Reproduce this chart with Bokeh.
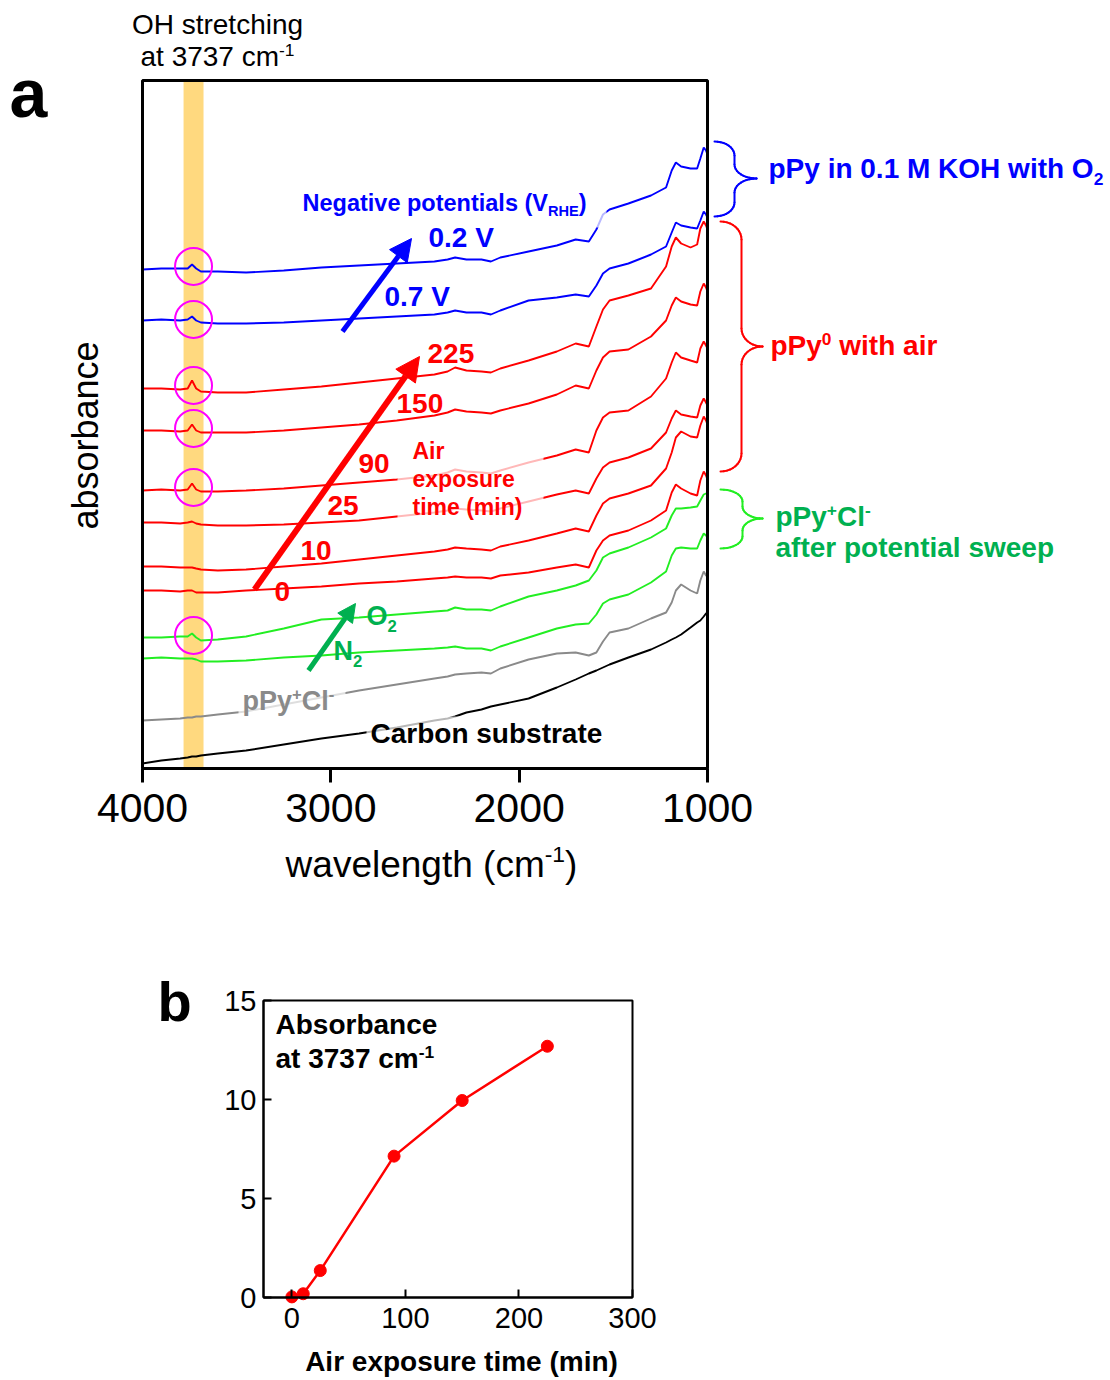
import math
from bokeh.plotting import figure
from bokeh.models import (Label, Arrow, NormalHead, BoxAnnotation, ColumnDataSource,
                          Range1d, FixedTicker, LinearAxis)
from bokeh.embed import file_html
from bokeh.resources import INLINE

# ---------------- data ----------------
wavenumber = [4000, 3900, 3800, 3760, 3737, 3715, 3690, 3600, 3450, 3250, 3050, 2850, 2650,
              2450, 2380, 2340, 2280, 2200, 2150, 2100, 1950, 1800, 1700, 1630, 1590, 1555,
              1520, 1420, 1300, 1220, 1190, 1168, 1140, 1090, 1055, 1038, 1020, 1008, 1000]

koh_02V = [499, 500, 500, 500, 504, 500, 497, 497, 496, 498, 501, 503, 505, 507, 509, 511, 509, 509, 507, 511,
           517, 523, 529, 527, 539, 554, 559, 565, 573, 581, 598, 606, 602, 600, 600, 610, 621, 618, 614]
koh_07V = [448, 449, 448, 449, 452, 448, 446, 445, 445, 446, 448, 450, 452, 454, 456, 458, 456, 456, 454, 458,
           468, 471, 474, 472, 483, 495, 500, 505, 514, 522, 536, 546, 543, 541, 540, 548, 557, 554, 551]
air_225 = [380, 380, 379, 380, 388, 380, 377, 376, 376, 379, 382, 386, 390, 394, 397, 401, 398, 397, 396, 400,
           408, 417, 425, 422, 442, 459, 468, 473, 480, 502, 522, 531, 525, 521, 524, 540, 547, 543, 539]
air_150 = [338, 338, 337, 338, 344, 338, 336, 336, 336, 338, 341, 344, 348, 353, 356, 359, 357, 356, 355, 358,
           365, 374, 383, 380, 398, 411, 417, 419, 432, 448, 463, 471, 467, 464, 463, 477, 485, 481, 477]
air_90 = [278, 279, 278, 279, 285, 279, 277, 277, 278, 280, 283, 286, 289, 293, 296, 299, 297, 296, 295, 298,
          306, 313, 319, 316, 338, 351, 356, 358, 372, 390, 406, 416, 411, 408, 406, 420, 427, 423, 420]
air_25 = [246, 246, 245, 246, 247, 245, 244, 243, 243, 244, 246, 248, 252, 256, 258, 260, 259, 258, 257, 260,
          267, 274, 278, 275, 290, 301, 306, 311, 320, 336, 350, 358, 354, 352, 351, 363, 370, 366, 363]
air_10 = [202, 202, 201, 201, 201, 200, 199, 198, 199, 202, 205, 209, 213, 217, 219, 221, 220, 219, 218, 222,
          228, 235, 240, 237, 253, 265, 270, 275, 283, 300, 316, 331, 337, 332, 331, 343, 352, 348, 344]
air_0 = [178, 178, 177, 178, 178, 176, 176, 176, 178, 180, 182, 185, 187, 190, 191, 192, 191, 191, 190, 193,
         196, 201, 204, 201, 218, 228, 233, 238, 248, 258, 276, 284, 280, 275, 273, 288, 297, 293, 289]
sweep_O2 = [131, 131, 132, 132, 135, 131, 128, 129, 132, 140, 149, 151, 154, 157, 158, 161, 159, 159, 158, 162,
            172, 178, 183, 188, 198, 211, 215, 221, 231, 240, 253, 260, 260, 261, 262, 268, 274, 275, 275]
sweep_N2 = [110, 111, 110, 110, 110, 109, 107, 107, 108, 111, 113, 116, 118, 120, 121, 122, 120, 120, 118, 122,
            131, 140, 144, 145, 154, 165, 169, 174, 186, 197, 213, 220, 221, 220, 220, 228, 235, 233, 231]
ppy_cl = [48, 49, 50, 51, 51, 52, 52, 54, 57, 64, 71, 78, 84, 90, 92, 94, 95, 96, 95, 100,
          109, 115, 116, 113, 116, 127, 136, 140, 150, 156, 166, 178, 184, 178, 175, 188, 197, 193, 192]
carbon = [5, 8, 10, 11, 12, 12, 13, 15, 18, 24, 30, 35, 41, 48, 50, 52, 56, 59, 62, 64,
          70, 81, 89, 95, 98, 101, 104, 111, 119, 126, 129, 131, 134, 141, 146, 148, 152, 155, 156]

oh_band_left, oh_band_right = 3782, 3676
oh_circle_wn = [3729, 3729, 3729, 3729, 3729, 3729]
oh_circle_y = [502, 449, 383, 340, 281, 133]

air_time_min = [0, 10, 25, 90, 150, 225]
abs_3737 = [0.03, 0.19, 1.36, 7.14, 9.95, 12.69]

wn_ticks = [4000, 3000, 2000, 1000]
b_xticks = [0, 100, 200, 300]
b_yticks = [0, 5, 10, 15]

FONT = "Liberation Sans"
BLUE, RED, LGREEN, DGREEN, GRAY = "#0000FF", "#FF0000", "#22EE22", "#00B050", "#8A8A8A"
W, H = 1110, 1380

# ---------------- layout anchors (pixels on the page) ----------------
A_L, A_R, A_T, A_B = 142, 707, 80, 768        # panel a frame
B_L, B_R, B_T, B_B = 263, 632, 1000, 1297     # panel b frame

sa = 3000.0 / (A_R - A_L)
sb = 325.0 / (B_R - B_L)
sby = 15.0 / (B_B - B_T)
BASE_K = 0.38   # renderer places the alphabetic baseline this many em lower

# ---------------- helpers ----------------
W_REG = {' ': 278, '(': 333, ')': 333, '-': 333, '+': 584, '.': 278,
         'A': 667, 'C': 722, 'E': 667, 'H': 722, 'K': 667, 'M': 833, 'N': 722, 'O': 778, 'P': 667,
         'R': 722, 'V': 667, 'a': 556, 'b': 556, 'c': 500, 'e': 556, 'f': 278, 'g': 556, 'h': 556,
         'i': 222, 'l': 222, 'm': 833, 'n': 556, 'o': 556, 'p': 556, 'r': 333, 's': 500, 't': 278,
         'u': 556, 'v': 500, 'w': 722, 'x': 500, 'y': 500}
W_BOLD = {' ': 278, '(': 333, ')': 333, '-': 333, '+': 584, '.': 278,
          'A': 722, 'C': 722, 'E': 667, 'H': 722, 'K': 722, 'M': 833, 'N': 722, 'O': 778, 'P': 667,
          'R': 722, 'V': 667, 'a': 556, 'b': 611, 'c': 556, 'e': 556, 'f': 333, 'g': 611, 'h': 611,
          'i': 278, 'l': 278, 'm': 889, 'n': 611, 'o': 611, 'p': 611, 'r': 389, 's': 556, 't': 333,
          'u': 611, 'v': 556, 'w': 778, 'x': 556, 'y': 556}


def tw(txt, bold):
    tab = W_BOLD if bold else W_REG
    return sum(tab.get(ch, 556) for ch in txt) / 1000.0


def ax(px):
    return 4000 - (px - A_L) * sa


def ay(py):
    return A_B - py


p = figure(width=W, height=H, output_backend="svg", toolbar_location=None,
           x_range=Range1d(ax(0), ax(W)), y_range=Range1d(ay(H), ay(0)),
           min_border_left=0, min_border_right=0, min_border_top=0, min_border_bottom=0)
p.extra_x_ranges = {"bx": Range1d(-25 - B_L * sb, -25 + (W - B_L) * sb)}
p.extra_y_ranges = {"by": Range1d(-(H - B_B) * sby, B_B * sby)}
p.title.visible = False
p.outline_line_color = None
p.xgrid.visible = False
p.ygrid.visible = False
p.background_fill_color = "white"
p.border_fill_color = "white"
p.yaxis.visible = False


def lab(px, py, text, size, color, bold, align="left", angle=0.0):
    """px, py: wanted position of the alphabetic baseline on the page."""
    if angle == 0.0:
        X, Y = ax(px), ay(py - BASE_K * size)
    else:
        X, Y = ax(px - BASE_K * size), ay(py)
    p.add_layout(Label(x=X, y=Y, text=text, text_font=FONT, text_font_size=f"{size:.1f}px",
                       text_font_style="bold" if bold else "normal", text_color=color,
                       text_align=align, text_baseline="alphabetic", angle=angle))


def rich(px, py, parts, size, color, bold, anchor="left"):
    def fs_of(kind):
        return size if kind == "n" else size * 0.62
    total = sum(tw(t, bold) * fs_of(k) for t, k in parts)
    x = px if anchor == "left" else px - total / 2.0
    for txt, kind in parts:
        fs = fs_of(kind)
        dy = {"n": 0.0, "sup": -0.40 * size, "sub": 0.20 * size}[kind]
        stripped = txt.lstrip(" ")
        lead = tw(txt[:len(txt) - len(stripped)], bold) * fs
        lab(x + lead, py + dy, stripped, fs, color, bold)
        x += tw(txt, bold) * fs


def brace(color, x_left, x_mid, x_tip, y_top, y_tip, y_bot, r, width=2, n=10):
    pts = []
    rx = x_mid - x_left
    rx2 = x_tip - x_mid
    for k in range(n + 1):
        t = math.radians(-90 + 90 * k / n)
        pts.append((x_left + rx * math.cos(t), y_top + r + r * math.sin(t)))
    for k in range(n + 1):
        t = math.radians(180 - 90 * k / n)
        pts.append((x_tip + rx2 * math.cos(t), y_tip - r + r * math.sin(t)))
    for k in range(n + 1):
        t = math.radians(-90 - 90 * k / n)
        pts.append((x_tip + rx2 * math.cos(t), y_tip + r + r * math.sin(t)))
    for k in range(n + 1):
        t = math.radians(90 * k / n)
        pts.append((x_left + rx * math.cos(t), y_bot - r + r * math.sin(t)))
    src = ColumnDataSource(dict(
        x0=[ax(q[0]) for q in pts[:-1]], y0=[ay(q[1]) for q in pts[:-1]],
        x1=[ax(q[0]) for q in pts[1:]], y1=[ay(q[1]) for q in pts[1:]]))
    p.add_layout(Arrow(x_start="x0", y_start="y0", x_end="x1", y_end="y1", source=src,
                       start=None, end=None, line_color=color, line_width=width, line_cap="round"))


def arrow(p0, p1, color, width, head):
    p.add_layout(Arrow(x_start=ax(p0[0]), y_start=ay(p0[1]), x_end=ax(p1[0]), y_end=ay(p1[1]),
                       line_color=color, line_width=width,
                       end=NormalHead(size=head, fill_color=color, line_color=color, line_width=1)))


# ---------------- panel a ----------------
xa = p.xaxis[0]
xa.fixed_location = 0
xa.bounds = (1000, 4000)
xa.ticker = FixedTicker(ticks=wn_ticks)
xa.minor_tick_line_color = None
xa.major_tick_in = 0
xa.major_tick_out = 14
xa.major_tick_line_width = 3
xa.axis_line_width = 3
xa.major_label_text_font = FONT
xa.major_label_text_font_size = "41px"
xa.major_label_text_color = "black"
xa.major_label_standoff = 11

p.add_layout(BoxAnnotation(left=oh_band_left, right=oh_band_right, bottom=0, top=688,
                           fill_color="#FFD97F", fill_alpha=1.0, line_color=None, level="underlay"))

series = [(koh_02V, BLUE), (koh_07V, BLUE), (air_225, RED), (air_150, RED), (air_90, RED),
          (air_25, RED), (air_10, RED), (air_0, RED), (sweep_O2, LGREEN), (sweep_N2, LGREEN),
          (ppy_cl, GRAY), (carbon, "black")]
for vals, col in series:
    p.line(wavenumber, vals, line_color=col, line_width=1.9)

p.scatter(oh_circle_wn, oh_circle_y, marker="circle", size=37, fill_color=None,
          line_color="#FF00FF", line_width=2)

# faded boxes behind in-plot labels
for l, r_, t, b in [(287, 606, 182, 227), (397, 543, 428, 529), (238, 345, 684, 716), (366, 608, 716, 750)]:
    p.add_layout(BoxAnnotation(left=ax(l), right=ax(r_), top=ay(t), bottom=ay(b),
                               fill_color="white", fill_alpha=0.72, line_color=None))

# frame of panel a
p.add_layout(BoxAnnotation(left=4000, right=1000, bottom=0, top=688, fill_alpha=0.0,
                           line_color="black", line_alpha=1.0, line_width=3))

arrow((342, 331), (411, 238), BLUE, 5, 22)
arrow((254, 589), (419, 356), RED, 6, 24)
arrow((308, 670), (355, 603), DGREEN, 5, 18)

brace(BLUE, 714, 734, 756, 141, 178, 216, 14)
brace(RED, 720, 741, 762, 221, 346, 471, 18)
brace(LGREEN, 720, 742, 762, 489, 518, 548, 12)

lab(9, 118, "a", 68, "black", True)
lab(217, 35, "OH stretching", 28, "black", False, align="center")
rich(217, 67, [("at 3737 cm", "n"), ("-1", "sup")], 28, "black", False, anchor="center")
lab(99, 435, "absorbance", 36, "black", False, align="center", angle=math.pi / 2)
rich(431, 878, [("wavelength (cm", "n"), ("-1", "sup"), (")", "n")], 37, "black", False, anchor="center")

rich(302, 211, [("Negative potentials (V", "n"), ("RHE", "sub"), (")", "n")], 23.5, BLUE, True)
lab(428, 248, "0.2 V", 28, BLUE, True)
lab(384, 307, "0.7 V", 28, BLUE, True)
for txt, px, py in [("225", 427, 364), ("150", 396, 414), ("90", 358, 474), ("25", 327, 516),
                    ("10", 300, 561), ("0", 274, 602)]:
    lab(px, py, txt, 28, RED, True)
for txt, py in [("Air", 459), ("exposure", 487), ("time (min)", 515)]:
    lab(412, py, txt, 23, RED, True)
rich(366, 626, [("O", "n"), ("2", "sub")], 27, DGREEN, True)
rich(333, 661, [("N", "n"), ("2", "sub")], 27, DGREEN, True)
rich(242, 711, [("pPy", "n"), ("+", "sup"), ("Cl", "n"), ("-", "sup")], 27, GRAY, True)
lab(370, 744, "Carbon substrate", 28, "black", True)

rich(768, 179, [("pPy in 0.1 M KOH with O", "n"), ("2", "sub")], 28, BLUE, True)
rich(770, 356, [("pPy", "n"), ("0", "sup"), (" with air", "n")], 28, RED, True)
rich(775, 527, [("pPy", "n"), ("+", "sup"), ("Cl", "n"), ("-", "sup")], 28, DGREEN, True)
lab(775, 558, "after potential sweep", 28, DGREEN, True)

# ---------------- panel b ----------------
bxa = LinearAxis(x_range_name="bx", y_range_name="by", fixed_location=0, bounds=(-25, 300))
bya = LinearAxis(x_range_name="bx", y_range_name="by", fixed_location=-25, bounds=(0, 15))
for axis, ticks, standoff in [(bxa, b_xticks, 10), (bya, b_yticks, 7)]:
    axis.ticker = FixedTicker(ticks=ticks)
    axis.minor_tick_line_color = None
    axis.major_tick_in = 8
    axis.major_tick_out = 0
    axis.major_tick_line_width = 2
    axis.axis_line_width = 2
    axis.major_label_text_font = FONT
    axis.major_label_text_font_size = "29px"
    axis.major_label_text_color = "black"
    axis.major_label_standoff = standoff
p.add_layout(bxa, "below")
p.add_layout(bya, "left")

p.add_layout(BoxAnnotation(left=-25, right=300, bottom=0, top=15, x_range_name="bx", y_range_name="by",
                           fill_alpha=0.0, line_color="black", line_alpha=1.0, line_width=2))

p.line(air_time_min, abs_3737, line_color=RED, line_width=2.5, x_range_name="bx", y_range_name="by")
p.scatter(air_time_min, abs_3737, marker="circle", size=12, fill_color=RED, line_color=RED,
          x_range_name="bx", y_range_name="by")

lab(157, 1022, "b", 56, "black", True)
lab(275, 1035, "Absorbance", 28, "black", True)
rich(275, 1069, [("at 3737 cm", "n"), ("-1", "sup")], 28, "black", True)
lab(461, 1372, "Air exposure time (min)", 28, "black", True, align="center")

open("out.html", "w").write(file_html(p, INLINE))
